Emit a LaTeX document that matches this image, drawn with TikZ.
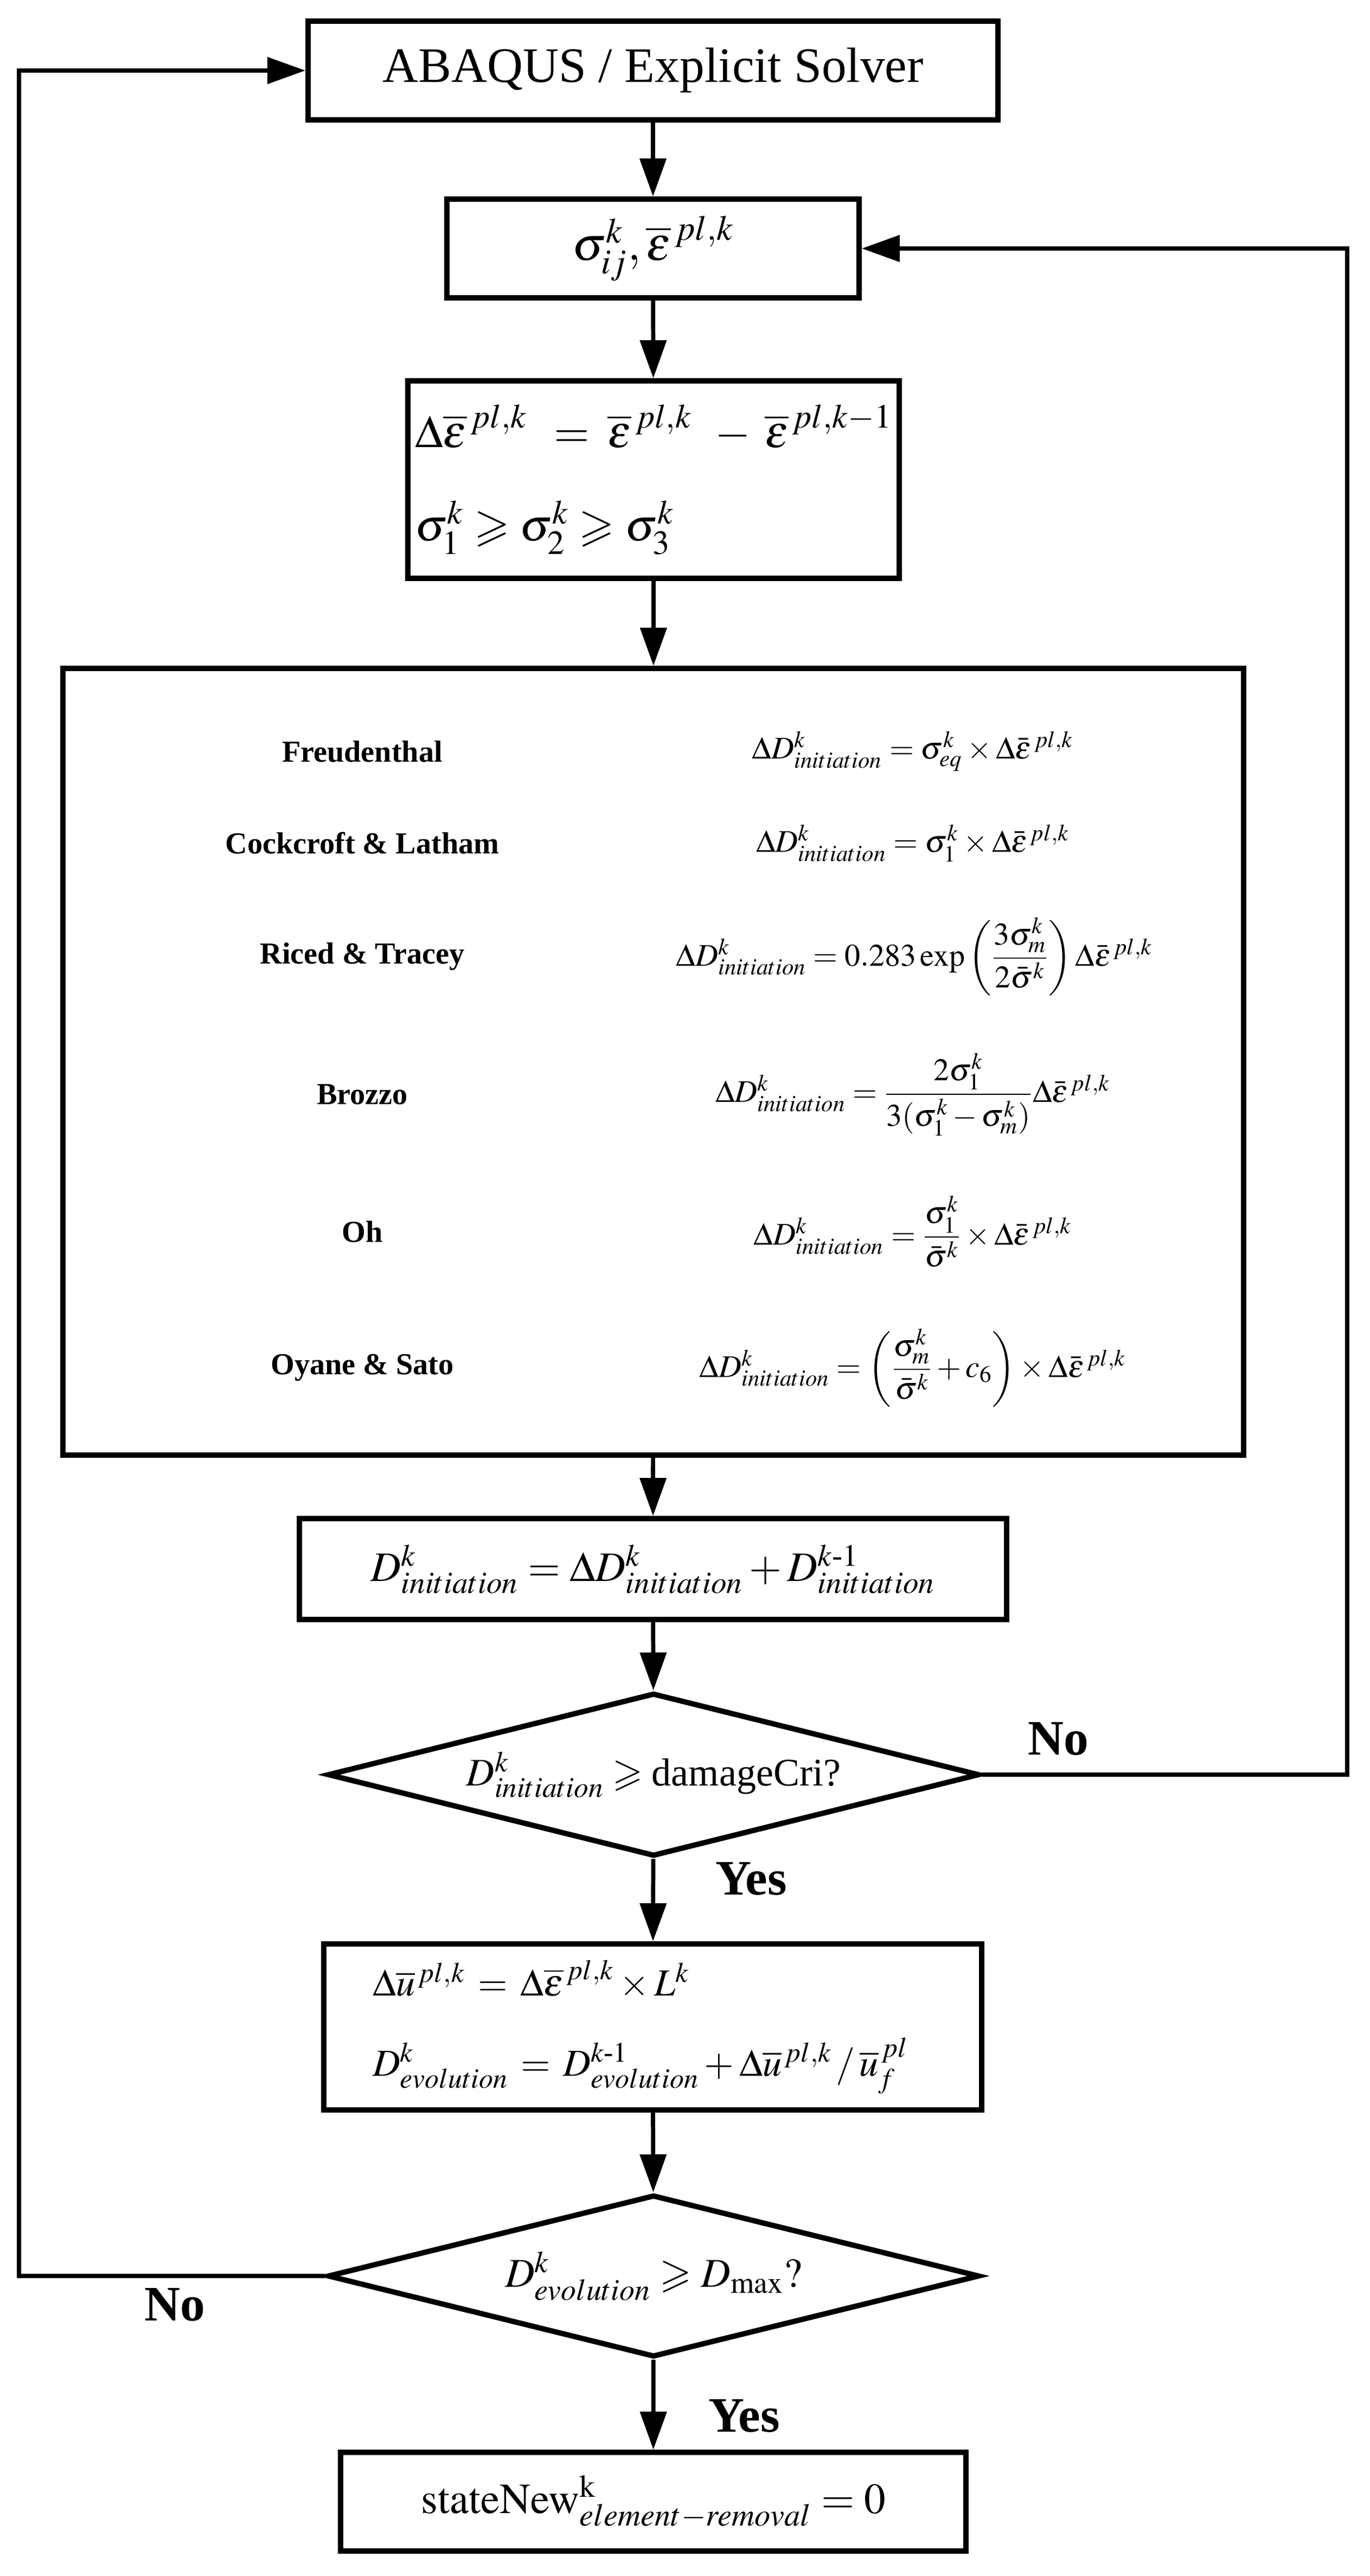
\documentclass[tikz,border=0pt]{standalone}
\usepackage{amsmath}
\usepackage{amssymb}
\usepackage{mathptmx}
\usepackage{fontspec}
\setmainfont{Liberation Serif}
\usetikzlibrary{arrows.meta,shapes.geometric,calc}
\tikzset{
    block/.style = {draw, rectangle, line width=2.8pt, inner sep=0pt, align=center},
    decision/.style = {draw, diamond, aspect=4, line width=2.8pt, inner sep=0pt},
    arrow/.style = {draw, line width=2.2pt, -{Triangle[length=0.7cm,width=0.48cm]}},
    critlabel/.style = {anchor=center, font=\bfseries\fontsize{16}{19}\selectfont},
    critformula/.style = {anchor=center, font=\fontsize{16.5}{20}\selectfont},
    answer/.style = {anchor=center, font=\bfseries\fontsize{26}{31}\selectfont},
    bigfont/.style = {font=\fontsize{26}{31}\selectfont}
}

\begin{document}
\begin{tikzpicture}
        \useasboundingbox (0,0) rectangle (25.25,-47.48);
        % main column
        \node [block, bigfont, minimum width=12.72cm, minimum height=1.82cm] (solver) at (12.04,-1.30) {ABAQUS / Explicit Solver};
        \node [block, font=\fontsize{25}{30}\selectfont, minimum width=7.60cm, minimum height=1.82cm] (state) at (12.04,-4.58) {$\sigma_{ij}^{k}, \overline{\varepsilon}^{\,pl,k}$};
        \node [block, font=\fontsize{24}{29}\selectfont, text width=8.80cm, inner xsep=0.13cm, minimum height=3.64cm, align=left] (incr) at (12.05,-8.84)
            {$\Delta\overline{\varepsilon}^{\,pl,k} \;\;=\; \overline{\varepsilon}^{\,pl,k} \;\;-\; \overline{\varepsilon}^{\,pl,k-1}$\\[20pt]
             $\sigma_{1}^{k} \geqslant \sigma_{2}^{k} \geqslant \sigma_{3}^{k}$};
        \node [block, minimum width=21.77cm, minimum height=14.50cm] (crit) at (12.045,-19.57) {};
        % damage criteria
        \node [critlabel] (freud) at (6.68,-13.85) {Freudenthal};
        \node [critformula] (freudeq) at (16.83,-13.85) {$\Delta D^{k}_{initiation} = \sigma^{k}_{eq}\times\Delta\bar{\varepsilon}^{\,pl,k}$};
        \node [critlabel] (cock) at (6.68,-15.54) {Cockcroft \& Latham};
        \node [critformula] (cockeq) at (16.83,-15.54) {$\Delta D^{k}_{initiation} = \sigma^{k}_{1}\times\Delta\bar{\varepsilon}^{\,pl,k}$};
        \node [critlabel] (rice) at (6.68,-17.63) {Riced \& Tracey};
        \node [critformula] (riceeq) at (16.86,-17.63) {$\Delta D^{k}_{initiation} = 0.283\exp\left(\dfrac{3\sigma^{k}_{m}}{2\bar{\sigma}^{k}}\right)\Delta\bar{\varepsilon}^{\,pl,k}$};
        \node [critlabel] (brozzo) at (6.68,-20.17) {Brozzo};
        \node [critformula] (brozzoeq) at (16.83,-20.17) {$\Delta D^{k}_{initiation} = \dfrac{2\sigma^{k}_{1}}{3(\sigma^{k}_{1}-\sigma^{k}_{m})}\Delta\bar{\varepsilon}^{\,pl,k}$};
        \node [critlabel] (oh) at (6.68,-22.70) {Oh};
        \node [critformula] (oheq) at (16.83,-22.70) {$\Delta D^{k}_{initiation} = \dfrac{\sigma^{k}_{1}}{\bar{\sigma}^{k}}\times\Delta\bar{\varepsilon}^{\,pl,k}$};
        \node [critlabel] (oyane) at (6.68,-25.21) {Oyane \& Sato};
        \node [critformula] (oyaneeq) at (16.83,-25.21) {$\Delta D^{k}_{initiation} = \left(\dfrac{\sigma^{k}_{m}}{\bar{\sigma}^{k}}+c_{6}\right)\times\Delta\bar{\varepsilon}^{\,pl,k}$};
        % initiation and evolution
        \node [block, font=\fontsize{22}{26}\selectfont, minimum width=13.04cm, minimum height=1.86cm] (dinit) at (12.04,-28.92) {$D^{k}_{initiation} = \Delta D^{k}_{initiation} + D^{k\text{-}1}_{initiation}$};
        \node [decision, font=\fontsize{20.5}{25}\selectfont, minimum width=12.02cm, minimum height=3.01cm] (check1) at (12.05,-32.71) {$D^{k}_{initiation}\geqslant\text{damageCri?}$};
        \node [block, font=\fontsize{20}{24}\selectfont, text width=10.33cm, inner xsep=0.9cm, minimum height=3.06cm, align=left] (evol) at (12.035,-37.36)
            {$\Delta\overline{u}^{\,pl,k} \,=\, \Delta\overline{\varepsilon}^{\,pl,k}\times L^{k}$\\[18pt]
             $D^{k}_{evolution} \,=\, D^{k\text{-}1}_{evolution} + \Delta\overline{u}^{\,pl,k}\,/\,\overline{u}^{\,pl}_{f}$};
        \node [decision, font=\fontsize{21.5}{26}\selectfont, minimum width=12.02cm, minimum height=2.99cm] (check2) at (12.05,-41.95) {$D^{k}_{evolution}\geqslant D_{\max}?$};
        \node [block, font=\fontsize{22.5}{27}\selectfont, minimum width=11.53cm, minimum height=1.82cm] (removal) at (12.045,-46.11) {$\mathrm{stateNew}^{\mathrm{k}}_{element-removal} = 0$};
        % connectors
        \coordinate (rturn) at (24.84,-32.71);
        \coordinate (lturn) at (0.35,-41.95);
        \draw [arrow] (solver) -- (state);
        \draw [arrow] (state) -- (incr);
        \draw [arrow] (incr) -- (crit);
        \draw [arrow] (crit) -- (dinit);
        \draw [arrow] (dinit) -- (check1);
        \draw [arrow] (check1) -- (evol);
        \draw [arrow] (evol) -- (check2);
        \draw [arrow] (check2) -- (removal);
        \draw [arrow] (check1.east) -- (rturn) |- (state.east);
        \draw [arrow] (check2.west) -- (lturn) |- (solver.west);
        \node [answer] (no1) at (19.51,-32.05) {No};
        \node [answer] (yes1) at (13.85,-34.63) {Yes};
        \node [answer] (no2) at (3.22,-42.48) {No};
        \node [answer] (yes2) at (13.72,-44.53) {Yes};
\end{tikzpicture}
\end{document}
